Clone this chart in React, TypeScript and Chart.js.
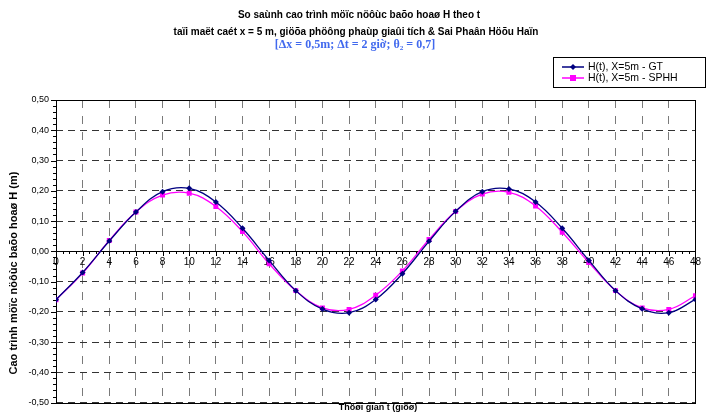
import React, { useEffect, useRef } from "react";
import { Chart, registerables } from "chart.js";

Chart.register(...registerables);

const TIMES = [0, 2, 4, 6, 8, 10, 12, 14, 16, 18, 20, 22, 24, 26, 28, 30, 32, 34, 36, 38, 40, 42, 44, 46, 48];
const GT = [-0.16, -0.07, 0.034, 0.13, 0.197, 0.208, 0.163, 0.076, -0.03, -0.13, -0.191, -0.203, -0.159, -0.074, 0.033, 0.132, 0.197, 0.206, 0.163, 0.076, -0.03, -0.13, -0.19, -0.203, -0.159];
const SPHH = [-0.16, -0.072, 0.036, 0.13, 0.186, 0.192, 0.148, 0.065, -0.041, -0.13, -0.187, -0.192, -0.145, -0.065, 0.039, 0.132, 0.189, 0.195, 0.15, 0.063, -0.037, -0.13, -0.187, -0.192, -0.147];
const SERIES_NAMES = ["H(t), X=5m - GT", "H(t), X=5m - SPHH"];
const TITLE_LINES = [
  "So saùnh cao trình möïc nöôùc baõo hoaø H theo t",
  "taïi maët caét x = 5 m, giöõa phöông phaùp giaûi tích & Sai Phaân Höõu Haïn",
  "[Δx = 0,5m; Δt = 2 giờ; θ₂ = 0,7]",
];
const X_TITLE = "Thôøi gian t (giôø)";
const Y_TITLE = "Cao trình möïc nöôùc baõo hoaø H (m)";

const NAVY = "#000080";
const MAGENTA = "#ff00ff";
const SANS = "'Liberation Sans', Arial, sans-serif";
const SERIF = "'Liberation Serif', 'Times New Roman', serif";

const decorPlugin = {
  id: "decor",
  beforeDatasetsDraw(chart: any) {
    const { ctx, chartArea: a, scales } = chart;
    const xs = scales.x;
    const ys = scales.y;
    const y0 = ys.getPixelForValue(0);
    ctx.save();
    ctx.setLineDash([]);
    ctx.strokeStyle = "#000";
    ctx.lineWidth = 1;
    ctx.strokeRect(Math.round(a.left) + 0.5, Math.round(a.top) + 0.5, Math.round(a.right - a.left), Math.round(a.bottom - a.top));
    ctx.beginPath();
    ctx.moveTo(a.left, Math.round(y0) + 0.5);
    ctx.lineTo(a.right, Math.round(y0) + 0.5);
    ctx.stroke();
    ctx.beginPath();
    for (let v = 0; v <= 48.001; v += 0.5) {
      const px = Math.round(xs.getPixelForValue(v)) + 0.5;
      const major = Math.abs(v / 2 - Math.round(v / 2)) < 1e-6;
      ctx.moveTo(px, Math.round(y0));
      ctx.lineTo(px, Math.round(y0) + (major ? 5 : 3));
    }
    ctx.stroke();
    ctx.beginPath();
    for (let i = -25; i <= 25; i++) {
      const v = i * 0.02;
      const py = Math.round(ys.getPixelForValue(v)) + 0.5;
      const major = i % 5 === 0;
      ctx.moveTo(Math.round(a.left), py);
      ctx.lineTo(Math.round(a.left) - (major ? 5 : 3), py);
    }
    ctx.stroke();
    ctx.restore();
  },
  afterDraw(chart: any) {
    const { ctx } = chart;
    ctx.save();
    ctx.setLineDash([]);
    ctx.textAlign = "center";
    ctx.textBaseline = "middle";
    ctx.fillStyle = "#000";
    ctx.font = `bold 10px ${SANS}`;
    ctx.fillText(TITLE_LINES[0], 359, 15);
    ctx.fillText(TITLE_LINES[1], 356, 32);
    ctx.fillStyle = "#4169ee";
    ctx.font = `bold 12px ${SERIF}`;
    ctx.fillText(TITLE_LINES[2], 355, 45);

    ctx.fillStyle = "#000";
    ctx.font = `bold 9px ${SANS}`;
    ctx.fillText(X_TITLE, 378, 408);
    ctx.save();
    ctx.translate(14, 273);
    ctx.rotate(-Math.PI / 2);
    ctx.font = `bold 11px ${SANS}`;
    ctx.fillText(Y_TITLE, 0, 0);
    ctx.restore();

    ctx.strokeStyle = "#000";
    ctx.lineWidth = 1;
    ctx.strokeRect(553.5, 57.5, 152, 30);
    const entries = [
      { color: NAVY, y: 67, shape: "diamond" },
      { color: MAGENTA, y: 78, shape: "square" },
    ];
    entries.forEach((e, i) => {
      ctx.strokeStyle = e.color;
      ctx.lineWidth = 1.5;
      ctx.beginPath();
      ctx.moveTo(562, e.y);
      ctx.lineTo(584, e.y);
      ctx.stroke();
      ctx.fillStyle = e.color;
      if (e.shape === "diamond") {
        ctx.beginPath();
        ctx.moveTo(573, e.y - 3);
        ctx.lineTo(576, e.y);
        ctx.lineTo(573, e.y + 3);
        ctx.lineTo(570, e.y);
        ctx.closePath();
        ctx.fill();
      } else {
        ctx.fillRect(570, e.y - 3, 6, 6);
      }
      ctx.fillStyle = "#000";
      ctx.textAlign = "left";
      ctx.font = `10.5px ${SANS}`;
      ctx.fillText(SERIES_NAMES[i], 588, e.y);
    });
    ctx.restore();
  },
};

export default function App() {
  const ref = useRef<HTMLCanvasElement | null>(null);
  useEffect(() => {
    if (!ref.current) return;
    const chart = new Chart(ref.current, {
      type: "line",
      data: {
        datasets: [
          {
            label: SERIES_NAMES[0],
            data: TIMES.map((t, i) => ({ x: t, y: GT[i] })),
            borderColor: NAVY,
            backgroundColor: NAVY,
            borderWidth: 1.3,
            pointStyle: "rectRot",
            pointRadius: 3,
            pointBorderWidth: 0,
            tension: 0.4,
          },
          {
            label: SERIES_NAMES[1],
            data: TIMES.map((t, i) => ({ x: t, y: SPHH[i] })),
            borderColor: MAGENTA,
            backgroundColor: MAGENTA,
            borderWidth: 1.3,
            pointStyle: "rect",
            pointRadius: 3.5,
            pointBorderWidth: 0,
            tension: 0.4,
          },
        ],
      },
      options: {
        responsive: false,
        animation: false,
        layout: { padding: { top: 100, right: 4, bottom: 12, left: 0 } },
        plugins: { legend: { display: false }, title: { display: false }, tooltip: { enabled: false } },
        scales: {
          x: {
            type: "linear",
            position: { y: 0 } as any,
            min: 0,
            max: 48,
            grid: { color: "#7a7a7a", lineWidth: 1, drawTicks: false },
            border: { display: false, dash: [8, 8] },
            ticks: {
              stepSize: 2,
              padding: 5,
              color: "#000",
              font: { family: SANS, size: 10 },
              maxRotation: 0,
              autoSkip: false,
              includeBounds: true,
            },
          },
          y: {
            type: "linear",
            min: -0.5,
            max: 0.5,
            afterFit: (scale: any) => {
              scale.width = 56;
            },
            grid: { color: "#333", lineWidth: 1, drawTicks: false },
            border: { display: false, dash: [7, 5] },
            ticks: {
              stepSize: 0.1,
              padding: 7,
              color: "#000",
              font: { family: SANS, size: 9 },
              callback: (v: any) => Number(v).toFixed(2).replace(".", ","),
            },
          },
        },
      },
      plugins: [decorPlugin],
    });
    return () => chart.destroy();
  }, []);
  return (
    <div style={{ position: "fixed", left: 0, top: 0, width: 706, height: 415, background: "#fff" }}>
      <canvas ref={ref} width={706} height={415} style={{ width: 706, height: 415, display: "block" }} />
    </div>
  );
}
